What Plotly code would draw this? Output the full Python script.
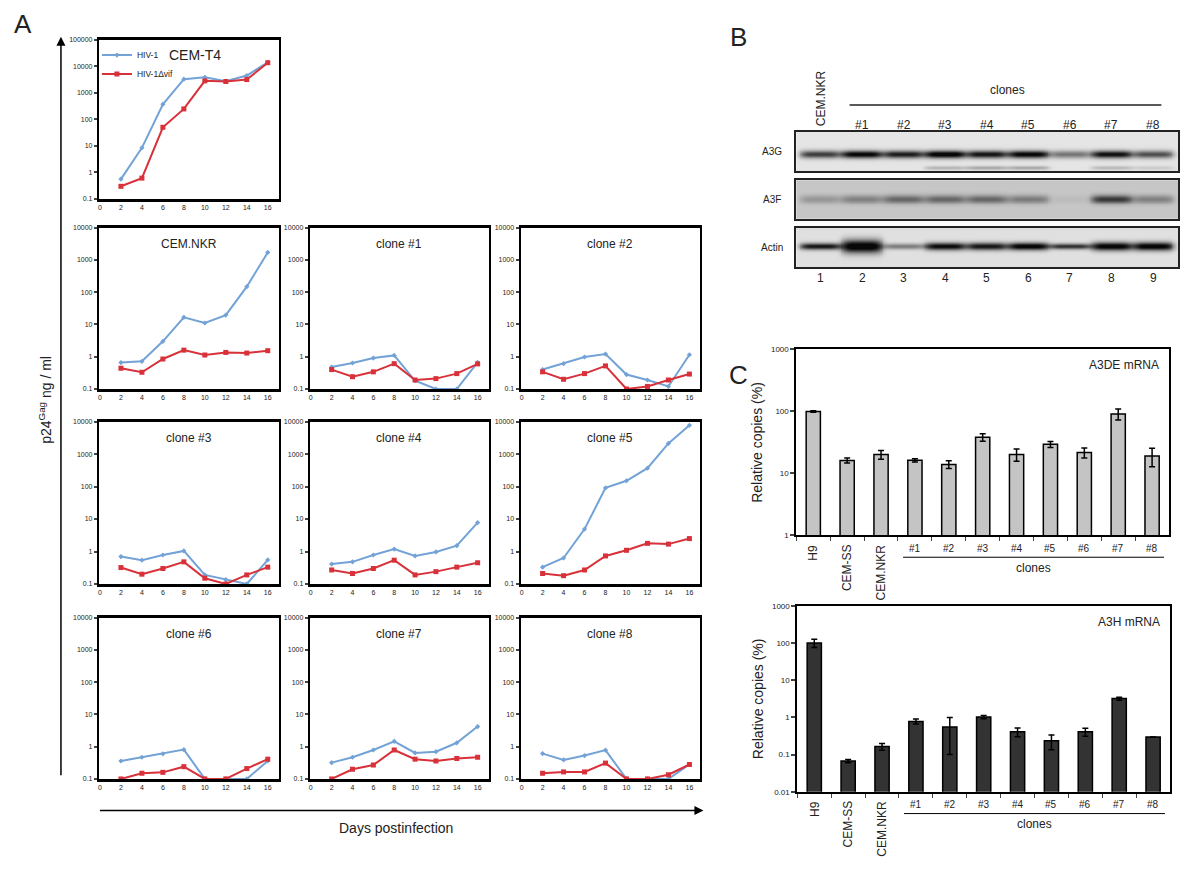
import numpy as np
import plotly.graph_objects as go

W, H = 1200, 874
FONT = 'Arial, Liberation Sans, sans-serif'
BLUE = '#72a2d6'
RED = '#d8313a'
LIGHT_BAR = '#c4c4c4'
DARK_BAR = '#333333'

# ---- panel A: p24Gag (ng/ml) per day postinfection ----
DAYS = [2, 4, 6, 8, 10, 12, 14, 16]

wt_cem_t4 = [0.56, 8.4, 367, 3230, 3840, 2720, 4430, 13900]
dvif_cem_t4 = [0.30, 0.61, 50, 246, 2800, 2650, 3140, 13500]
wt_cem_nkr = [0.66, 0.72, 3.0, 16.6, 11.1, 19.5, 148, 1710]
dvif_cem_nkr = [0.44, 0.33, 0.85, 1.6, 1.13, 1.36, 1.3, 1.54]
wt_c1 = [0.48, 0.64, 0.91, 1.1, 0.18, 0.1, 0.1, 0.67]
dvif_c1 = [0.40, 0.24, 0.34, 0.61, 0.19, 0.21, 0.30, 0.60]
wt_c2 = [0.40, 0.61, 0.98, 1.21, 0.28, 0.19, 0.12, 1.15]
dvif_c2 = [0.34, 0.20, 0.30, 0.52, 0.1, 0.12, 0.19, 0.29]
wt_c3 = [0.70, 0.54, 0.78, 1.04, 0.19, 0.136, 0.1, 0.55]
dvif_c3 = [0.32, 0.20, 0.30, 0.48, 0.15, 0.1, 0.19, 0.33]
wt_c4 = [0.41, 0.48, 0.78, 1.19, 0.73, 0.97, 1.51, 7.8]
dvif_c4 = [0.27, 0.21, 0.30, 0.54, 0.19, 0.24, 0.33, 0.45]
wt_c5 = [0.33, 0.63, 4.9, 91, 151, 369, 2140, 7700]
dvif_c5 = [0.21, 0.18, 0.27, 0.73, 1.09, 1.78, 1.69, 2.5]
wt_c6 = [0.36, 0.47, 0.60, 0.81, 0.1, 0.1, 0.1, 0.36]
dvif_c6 = [0.1, 0.15, 0.16, 0.24, 0.1, 0.1, 0.21, 0.41]
wt_c7 = [0.32, 0.47, 0.79, 1.46, 0.64, 0.70, 1.32, 4.2]
dvif_c7 = [0.1, 0.20, 0.27, 0.79, 0.41, 0.36, 0.43, 0.47]
wt_c8 = [0.61, 0.39, 0.53, 0.78, 0.1, 0.1, 0.1, 0.28]
dvif_c8 = [0.15, 0.165, 0.165, 0.31, 0.1, 0.1, 0.135, 0.28]

PANELS = [('CEM-T4', wt_cem_t4, dvif_cem_t4),
          ('CEM.NKR', wt_cem_nkr, dvif_cem_nkr),
          ('clone #1', wt_c1, dvif_c1), ('clone #2', wt_c2, dvif_c2),
          ('clone #3', wt_c3, dvif_c3), ('clone #4', wt_c4, dvif_c4),
          ('clone #5', wt_c5, dvif_c5), ('clone #6', wt_c6, dvif_c6),
          ('clone #7', wt_c7, dvif_c7), ('clone #8', wt_c8, dvif_c8)]

# ---- panel B: western blot band intensities per lane ----
LANE_NO = [1, 2, 3, 4, 5, 6, 7, 8, 9]
LANE_TOP = ['', '#1', '#2', '#3', '#4', '#5', '#6', '#7', '#8']
a3g_main = [0.72, 0.95, 0.85, 1.0, 0.88, 0.95, 0.5, 0.9, 0.65]
a3g_minor = [0.0, 0.0, 0.0, 0.22, 0.28, 0.28, 0.0, 0.2, 0.12]
a3f_band = [0.22, 0.32, 0.42, 0.42, 0.42, 0.34, 0.05, 0.6, 0.32]
actin_band = [0.85, 1.0, 0.45, 0.9, 0.85, 0.95, 0.75, 0.95, 0.95]
actin_thick = [3.5, 7, 3, 4, 4, 4, 3, 4.5, 4.5]

# ---- panel C: relative mRNA copies (%) ----
CELLS = ['H9', 'CEM-SS', 'CEM.NKR', '#1', '#2', '#3', '#4', '#5', '#6', '#7', '#8']
a3de = [100, 16.2, 20.2, 16.3, 14.0, 38.5, 20.2, 29.5, 21.7, 91, 19.2]
a3de_err = [3, 1.5, 3.3, 1.0, 2.0, 5.3, 4.5, 3.2, 4.0, 18, 6.4]
a3h = [100, 0.067, 0.165, 0.78, 0.55, 1.02, 0.41, 0.235, 0.41, 3.2, 0.295]
a3h_err = [25, 0.007, 0.035, 0.12, 0.45, 0.1, 0.11, 0.1, 0.1, 0.3, 0.004]


def px_x(a):
    return a / W


def px_y(b):
    return 1 - b / H


def xdom(a, b):
    return [a / W, b / W]


def ydom(top, bot):
    return [1 - bot / H, 1 - top / H]


def note(text, x, y, size=12, xref='paper', **kw):
    # x given in px unless a data axis is referenced; y always in px
    d = dict(text=text, x=px_x(x) if xref == 'paper' else x, y=px_y(y),
             xref=xref, yref='paper', showarrow=False,
             xanchor='center', yanchor='middle', font=dict(size=size, color='#222'))
    d.update(kw)
    return d


fig = go.Figure()
lay = {}
ann = []
shapes = []

COLS = [(98, 278), (309, 488), (520, 700)]
ROWS = [(36, 197), (226, 389), (422, 586), (620, 783)]
slots = [(0, 0)] + [(r, c) for r in (1, 2, 3) for c in (0, 1, 2)]

for i, (name, wt, dv) in enumerate(PANELS):
    n = i + 1
    r, c = slots[i]
    x0, x1 = COLS[c]
    y0, y1 = ROWS[r]
    top = 5 if i == 0 else 4
    xa, ya = f'x{n}', f'y{n}'
    fig.add_trace(go.Scatter(x=DAYS, y=wt, xaxis=xa, yaxis=ya, name='HIV-1',
                             mode='lines+markers', showlegend=(i == 0),
                             line=dict(color=BLUE, width=2),
                             marker=dict(symbol='diamond', size=4, color=BLUE),
                             cliponaxis=False))
    fig.add_trace(go.Scatter(x=DAYS, y=dv, xaxis=xa, yaxis=ya, name='HIV-1\u0394vif',
                             mode='lines+markers', showlegend=(i == 0),
                             line=dict(color=RED, width=2),
                             marker=dict(symbol='square', size=5, color=RED),
                             cliponaxis=False))
    tv = [10 ** k for k in range(-1, top + 1)]
    tt = ['0.1', '1', '10', '100', '1000', '10000', '100000'][:len(tv)]
    lay[f'xaxis{n}'] = dict(domain=xdom(x0, x1), anchor=ya, range=[-0.1, 17.05],
                            tickvals=list(range(0, 17, 2)), ticks='',
                            tickfont=dict(size=7, color='#222'), showgrid=False,
                            zeroline=False, showline=True, linecolor='black',
                            linewidth=2.5, mirror=True)
    lay[f'yaxis{n}'] = dict(domain=ydom(y0, y1), anchor=xa, type='log',
                            range=[-1, top], tickvals=tv, ticktext=tt,
                            ticks='outside', ticklen=3, tickwidth=1.5,
                            tickfont=dict(size=7, color='#222'), showgrid=False,
                            zeroline=False, showline=True, linecolor='black',
                            linewidth=2, mirror=True)
    if i == 0:
        ann.append(note(name, 194, 52, size=14))
    else:
        ann.append(note(name, (x0 + x1) / 2, y0 + 17))

# ---- panel B ----
BOX_X = (796, 1178)
BOXES = [(129, 169), (178, 217), (226, 266)]
lane_lo, lane_hi = 0.42, 9.6
gx = np.linspace(lane_lo, lane_hi, 420)
gy = np.linspace(0, 40, 81)
GX, GY = np.meshgrid(gx, gy)


def blot(bands, bg):
    z = np.full(GX.shape, bg)
    for amps, yc, th in bands:
        th = np.broadcast_to(np.asarray(th, dtype=float), (9,))
        for lane, a, t in zip(LANE_NO, amps, th):
            z += a * np.exp(-((GX - lane) / 0.5) ** 6) * np.exp(-((GY - yc) / t) ** 2)
    return np.clip(z, 0, 1)


strips = [
    ('A3G', blot([(a3g_main, 23, 4.0), (a3g_minor, 37, 2.0)], 0.08)),
    ('A3F', blot([(a3f_band, 20, 4.5)], 0.22)),
    ('Actin', blot([(actin_band, 19, actin_thick)], 0.1)),
]
for j, (lab, z) in enumerate(strips):
    n = 11 + j
    y0, y1 = BOXES[j]
    fig.add_trace(go.Heatmap(x=gx, y=gy, z=z, xaxis=f'x{n}', yaxis=f'y{n}',
                             zmin=0, zmax=1, showscale=False, hoverinfo='skip',
                             colorscale=[[0, '#f6f6f6'], [0.5, '#8a8a8a'], [1, '#080808']]))
    lay[f'xaxis{n}'] = dict(domain=xdom(*BOX_X), anchor=f'y{n}', range=[lane_lo, lane_hi],
                            showticklabels=False, ticks='', showgrid=False, zeroline=False,
                            showline=True, linecolor='#222', linewidth=2, mirror=True)
    lay[f'yaxis{n}'] = dict(domain=ydom(y0, y1), anchor=f'x{n}', range=[40, 0],
                            showticklabels=False, ticks='', showgrid=False, zeroline=False,
                            showline=True, linecolor='#222', linewidth=2, mirror=True)
    ann.append(note(lab, 772, (y0 + y1) / 2, size=10))

for lane, t in zip(LANE_NO, LANE_TOP):
    ann.append(note(str(lane), lane, 277, xref='x13'))
    if t:
        ann.append(note(t, lane, 122, xref='x11'))
ann.append(note('CEM.NKR', LANE_NO[0], 125, xref='x11', yanchor='bottom', textangle=-90))
ann.append(note('clones', (LANE_NO[1] + LANE_NO[-1]) / 2, 87, xref='x11'))
shapes.append(dict(type='line', xref='x11', yref='paper', x0=LANE_NO[1] - 0.3,
                   x1=LANE_NO[-1] + 0.2, y0=px_y(102), y1=px_y(102),
                   line=dict(color='#222', width=1.5)))

# ---- panel C ----
BARS = [(a3de, a3de_err, LIGHT_BAR, 'A3DE mRNA', (796, 1169), (349, 537), [0, 3]),
        (a3h, a3h_err, DARK_BAR, 'A3H mRNA', (797, 1170), (608, 796), [-2, 3])]
for k, (vals, err, col, lab, (x0, x1), (y0, y1), yr) in enumerate(BARS):
    n = 14 + k
    fig.add_trace(go.Bar(x=CELLS, y=vals, xaxis=f'x{n}', yaxis=f'y{n}', width=0.42,
                         marker=dict(color=col, line=dict(color='black', width=1.5)),
                         error_y=dict(type='data', array=err, color='black',
                                      thickness=1.5, width=3),
                         showlegend=False))
    tv = [10 ** e for e in range(yr[0], yr[1] + 1)]
    tt = [('%g' % v) for v in tv]
    lay[f'xaxis{n}'] = dict(domain=xdom(x0, x1), anchor=f'y{n}', type='category',
                            range=[-0.5, len(CELLS) - 0.5], showticklabels=False,
                            ticks='outside', tickson='boundaries', ticklen=4, tickwidth=1,
                            showgrid=False, zeroline=False, showline=True,
                            linecolor='black', linewidth=2, mirror=True)
    lay[f'yaxis{n}'] = dict(domain=ydom(y0, y1), anchor=f'x{n}', type='log', range=yr,
                            tickvals=tv, ticktext=tt, ticks='outside', ticklen=4,
                            tickwidth=1.5, tickfont=dict(size=8, color='#222'),
                            showgrid=False, zeroline=False, showline=True,
                            linecolor='black', linewidth=2, mirror=True)
    ann.append(note('Relative copies (%)', 757, (y0 + y1) / 2, size=14, textangle=-90))
    ann.append(note(lab, x1 - 8, y0 + 16, xanchor='right'))
    for ci, cell in enumerate(CELLS):
        if ci < 3:
            ann.append(note(cell, cell, y1 + 7, xref=f'x{n}', yanchor='top', textangle=-90))
        else:
            ann.append(note(cell, cell, y1 + 13, size=10, xref=f'x{n}'))
    shapes.append(dict(type='line', xref=f'x{n}', yref='paper', x0=3 - 0.35, x1=10 + 0.35,
                       y0=px_y(y1 + 22), y1=px_y(y1 + 22), line=dict(color='black', width=1)))
    ann.append(note('clones', 6.5, y1 + 33, xref=f'x{n}'))

# panel letters, axis labels and arrows
for t, x, y in [('A', 22, 20), ('B', 738, 33), ('C', 738, 375)]:
    ann.append(note(t, x, y, size=26))
ann.append(note('p24<sup>Gag</sup> ng / ml', 44, 400, size=14, textangle=-90))
ann.append(note('Days postinfection', 395, 833, size=14))
ann.append(dict(text='', x=px_x(60), y=px_y(33), xref='paper', yref='paper', ax=0, ay=740,
                showarrow=True, arrowhead=2, arrowsize=1.2, arrowwidth=1.5, arrowcolor='black'))
ann.append(dict(text='', x=px_x(703), y=px_y(815), xref='paper', yref='paper', ax=-605, ay=0,
                showarrow=True, arrowhead=2, arrowsize=1.2, arrowwidth=1.5, arrowcolor='black'))

fig.update_layout(**lay)
fig.update_layout(width=W, height=H, margin=dict(l=0, r=0, t=0, b=0),
                  paper_bgcolor='white', plot_bgcolor='white',
                  font=dict(family=FONT, color='#222'),
                  annotations=ann, shapes=shapes,
                  legend=dict(x=px_x(96), y=px_y(37), xanchor='left', yanchor='top',
                              bgcolor='rgba(0,0,0,0)', font=dict(size=8.5),
                              itemwidth=30, tracegroupgap=0))
# drop the default 8px body margin so the figure sits at the page origin
fig.write_html('out.html', config={'displayModeBar': False},
               post_script="document.body.style.margin='0';")
